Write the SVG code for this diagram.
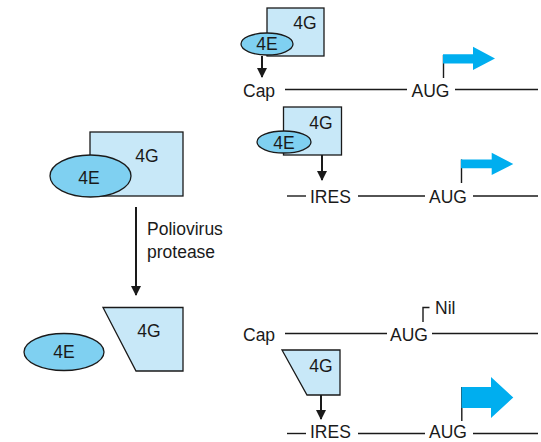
<svg xmlns="http://www.w3.org/2000/svg" width="541" height="442" viewBox="0 0 541 442">
<defs>
<style>
.g{fill:#c8e8f8;stroke:#1a1a1a;stroke-width:1.3}
.e{fill:#7fd0f1;stroke:#1a1a1a;stroke-width:1.3}
.t{font-family:"Liberation Sans",Arial,sans-serif;font-size:17.5px;fill:#1a1a1a}
.m{text-anchor:middle}
.l{stroke:#1a1a1a;stroke-width:1.4;fill:none}
.c{stroke:#1a1a1a;stroke-width:2;fill:none}
.b{fill:#00aeef}
</style>
<marker id="ah" markerWidth="10" markerHeight="12" refX="9" refY="5" orient="auto" markerUnits="userSpaceOnUse">
<path d="M0,0 L10,5 L0,10 Z" fill="#1a1a1a"/>
</marker>
</defs>
<rect width="541" height="442" fill="#fff"/>

<g id="complex-left">
<rect class="g" x="90" y="132" width="93" height="64"/>
<text class="t m" x="147" y="162">4G</text>
<ellipse class="e" cx="90.5" cy="176" rx="40.5" ry="21"/>
<text class="t m" x="89" y="184">4E</text>
</g>

<g id="cleaved-left">
<ellipse class="e" cx="64" cy="352" rx="40" ry="18.5"/>
<text class="t m" x="64" y="358">4E</text>
<polygon class="g" points="103,307.5 183,307.5 183,371 136,371"/>
<text class="t m" x="149" y="337">4G</text>
</g>

<g id="complex-cap">
<rect class="g" x="267" y="8" width="57" height="48"/>
<text class="t m" x="305" y="29">4G</text>
<ellipse class="e" cx="267" cy="44" rx="26" ry="11"/>
<text class="t m" x="267" y="50">4E</text>
</g>

<g id="complex-ires">
<rect class="g" x="283.5" y="107" width="58" height="48"/>
<text class="t m" x="321" y="129">4G</text>
<ellipse class="e" cx="284" cy="142" rx="27" ry="11"/>
<text class="t m" x="284" y="149">4E</text>
</g>

<g id="fragment-ires">
<polygon class="g" points="282,350 340,350 340,395 307,395"/>
<text class="t m" x="321" y="372">4G</text>
</g>

<g id="mrna-1">
<text class="t" x="243" y="96.5">Cap</text>
<line class="l" x1="285" y1="89.5" x2="407" y2="89.5"/>
<text class="t" x="411.5" y="96.5">AUG</text>
<line class="l" x1="455" y1="89.5" x2="538" y2="89.5"/>
<line class="l" x1="443.5" y1="55" x2="443.5" y2="78"/>
<polygon class="b" points="443,54.3 473,54.3 473,46.7 495,58.5 473,70 473,63.5 443,63.5"/>
</g>

<g id="mrna-2">
<line class="l" x1="287" y1="196" x2="306" y2="196"/>
<text class="t" x="310" y="203">IRES</text>
<line class="l" x1="358" y1="196" x2="425" y2="196"/>
<text class="t" x="429" y="203">AUG</text>
<line class="l" x1="473" y1="196" x2="538" y2="196"/>
<line class="l" x1="461.5" y1="159.5" x2="461.5" y2="183"/>
<polygon class="b" points="461,159.5 491.7,159.5 491.7,152.7 513.3,164 491.7,175 491.7,168.3 461,168.3"/>
</g>

<g id="mrna-3">
<text class="t" x="243" y="341">Cap</text>
<line class="l" x1="285" y1="333.5" x2="387" y2="333.5"/>
<text class="t" x="390" y="341">AUG</text>
<line class="l" x1="432" y1="333.5" x2="538" y2="333.5"/>
<path class="l" d="M423,322 V307.5 H429.5"/>
<text class="t" x="435" y="314">Nil</text>
</g>

<g id="mrna-4">
<line class="l" x1="287" y1="433.5" x2="306" y2="433.5"/>
<text class="t" x="310" y="437.5">IRES</text>
<line class="l" x1="358" y1="433.5" x2="425" y2="433.5"/>
<text class="t" x="429" y="437.5">AUG</text>
<line class="l" x1="473" y1="433.5" x2="538" y2="433.5"/>
<line class="l" x1="461.8" y1="387" x2="461.8" y2="421"/>
<polygon class="b" points="461.5,387 491,387 491,377 513.3,397.5 491,418 491,408 461.5,408"/>
</g>

<g id="connectors">
<line class="c" x1="136" y1="207" x2="136" y2="295" marker-end="url(#ah)"/>
<line class="c" x1="262" y1="56" x2="262" y2="77" marker-end="url(#ah)"/>
<line class="c" x1="322" y1="155" x2="322" y2="180" marker-end="url(#ah)"/>
<line class="c" x1="321" y1="395" x2="321" y2="419" marker-end="url(#ah)"/>
</g>

<g id="label-protease">
<text class="t" x="147" y="235">Poliovirus</text>
<text class="t" x="147" y="258">protease</text>
</g>
</svg>
